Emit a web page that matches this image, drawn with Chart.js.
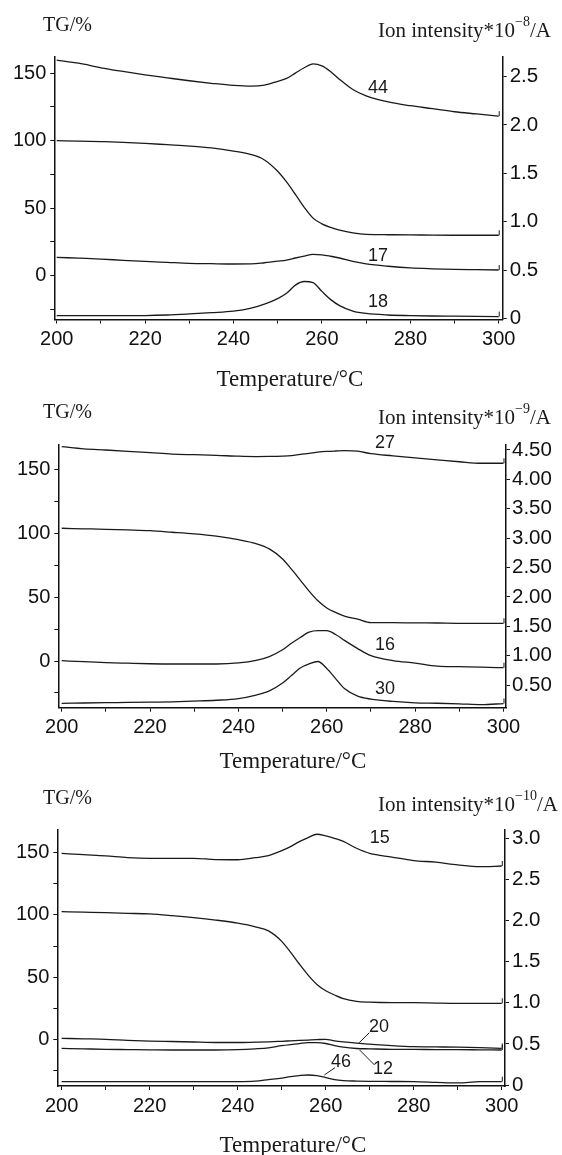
<!DOCTYPE html>
<html>
<head>
<meta charset="utf-8">
<script src="https://cdn.jsdelivr.net/npm/chart.js@4.4.1/dist/chart.umd.min.js"></script>
<style>
  html, body { margin: 0; padding: 0; background: #fff; }
  #wrap { position: relative; width: 562px; height: 1155px; overflow: hidden; }
  canvas { position: absolute; left: 0; }
</style>
</head>
<body>
<div id="wrap">
  <canvas id="c1" width="562" height="395" style="top:0px"></canvas>
  <canvas id="c2" width="562" height="395" style="top:385px"></canvas>
  <canvas id="c3" width="562" height="385" style="top:770px"></canvas>
</div>
<script>
// Temperature grid (°C) shared by every curve
const temps = [200, 205, 210, 215, 220, 225, 230, 235, 240, 244, 247, 250, 252, 254, 256, 258, 260, 262, 264, 267, 270, 275, 280, 285, 290, 295, 300];

// Panel 1: TG (%) and ion currents *10^-8 A
const tg1  = [99.9, 99.6, 99.2, 98.7, 97.9, 96.9, 95.9, 94.5, 92.2, 89.6, 85.6, 77.2, 69.3, 60.1, 50.5, 42.5, 38.3, 35.6, 33.6, 31.5, 30.4, 30.2, 30.1, 29.9, 29.8, 29.8, 29.8];
const ms44 = [2.67, 2.637, 2.59, 2.552, 2.517, 2.486, 2.456, 2.43, 2.408, 2.40, 2.41, 2.45, 2.48, 2.535, 2.59, 2.63, 2.61, 2.55, 2.47, 2.365, 2.30, 2.237, 2.198, 2.168, 2.136, 2.113, 2.09];
const ms17 = [0.632, 0.623, 0.614, 0.601, 0.590, 0.580, 0.570, 0.566, 0.563, 0.564, 0.576, 0.592, 0.604, 0.625, 0.645, 0.663, 0.658, 0.643, 0.625, 0.590, 0.565, 0.540, 0.522, 0.513, 0.507, 0.504, 0.501];
const ms18 = [0.029, 0.029, 0.029, 0.029, 0.030, 0.036, 0.047, 0.060, 0.076, 0.107, 0.148, 0.205, 0.26, 0.345, 0.382, 0.37, 0.28, 0.195, 0.133, 0.077, 0.052, 0.036, 0.030, 0.026, 0.024, 0.022, 0.020];

// Panel 2: TG (%) and ion currents *10^-9 A
const tg2  = [103.8, 103.4, 103.0, 102.5, 101.9, 100.7, 99.4, 97.6, 94.9, 91.8, 87.7, 79.8, 71.8, 63.3, 54.7, 47.1, 41.5, 38.0, 35.1, 32.7, 30.0, 30.0, 29.8, 29.7, 29.5, 29.5, 29.5];
const ms27 = [4.557, 4.52, 4.50, 4.478, 4.455, 4.43, 4.42, 4.41, 4.394, 4.388, 4.39, 4.396, 4.405, 4.425, 4.442, 4.462, 4.475, 4.483, 4.489, 4.48, 4.437, 4.40, 4.365, 4.332, 4.30, 4.274, 4.274];
const ms16 = [0.914, 0.897, 0.881, 0.871, 0.862, 0.858, 0.858, 0.858, 0.876, 0.92, 0.985, 1.10, 1.21, 1.31, 1.40, 1.425, 1.425, 1.36, 1.26, 1.12, 1.00, 0.915, 0.873, 0.822, 0.812, 0.803, 0.795];
const ms30 = [0.189, 0.194, 0.199, 0.204, 0.209, 0.214, 0.226, 0.241, 0.27, 0.33, 0.40, 0.535, 0.66, 0.79, 0.86, 0.90, 0.78, 0.61, 0.44, 0.31, 0.26, 0.22, 0.197, 0.19, 0.18, 0.165, 0.185];

// Panel 3: TG (%) and ion currents *10^-10 A
const tg3  = [102.6, 102.2, 101.8, 101.3, 100.8, 99.5, 97.9, 95.9, 93.4, 90.5, 87.2, 78.8, 70.1, 60.6, 51.7, 44.2, 39.1, 35.7, 32.8, 30.6, 29.9, 29.5, 29.5, 29.2, 29.0, 29.0, 29.0];
const ms15 = [2.818, 2.802, 2.787, 2.766, 2.758, 2.758, 2.758, 2.742, 2.74, 2.765, 2.79, 2.85, 2.90, 2.96, 3.01, 3.05, 3.03, 3.00, 2.963, 2.88, 2.818, 2.773, 2.73, 2.71, 2.677, 2.656, 2.664];
const ms20 = [0.568, 0.562, 0.556, 0.544, 0.535, 0.529, 0.523, 0.517, 0.517, 0.521, 0.525, 0.532, 0.537, 0.542, 0.547, 0.552, 0.556, 0.537, 0.524, 0.509, 0.497, 0.479, 0.466, 0.463, 0.46, 0.454, 0.446];
const ms12 = [0.446, 0.44, 0.434, 0.431, 0.428, 0.426, 0.426, 0.426, 0.43, 0.44, 0.452, 0.478, 0.492, 0.504, 0.515, 0.515, 0.505, 0.48, 0.46, 0.444, 0.44, 0.434, 0.433, 0.431, 0.43, 0.428, 0.426];
const ms46 = [0.041, 0.041, 0.041, 0.041, 0.041, 0.041, 0.041, 0.041, 0.041, 0.047, 0.066, 0.085, 0.103, 0.115, 0.122, 0.113, 0.09, 0.066, 0.054, 0.048, 0.045, 0.043, 0.041, 0.033, 0.025, 0.041, 0.041];

// Tick values
const xTicks = [200, 210, 220, 230, 240, 250, 260, 270, 280, 290, 300];
const tgTicks = [-25, 0, 25, 50, 75, 100, 125, 150];
const ionTicks1 = [0, 0.5, 1.0, 1.5, 2.0, 2.5];
const ionTicks2 = [0.5, 1.0, 1.5, 2.0, 2.5, 3.0, 3.5, 4.0, 4.5];
const ionTicks3 = [0, 0.5, 1.0, 1.5, 2.0, 2.5, 3.0];

// Layout of each panel (pixels inside its canvas) and axis ranges
const LINE = '#1a1a1a';
const X_AXIS_H = 40;
const SANS = '"Liberation Sans", Arial, sans-serif';
const SERIF = '"Liberation Serif", "Times New Roman", serif';

const PANELS = [
  {
    id: 'c1', h: 395, left: 54.3, right: 502.7, top: 56.7, bottom: 319.5,
    xMin: 199.46, xMax: 300.9, tgMin: -32.6, tgMax: 162.1, ionMin: -0.0103, ionMax: 2.7045,
    tg: tg1, ion: [ms44, ms17, ms18], ionTicks: ionTicks1, digits: 1, rightPad: 3,
    exp: '\u22128', tgY: 31, ionY: 37.3, tempX: 290, tempY: 386,
    labels: [['44', 272.7, 2.381], ['17', 272.7, 0.646], ['18', 272.7, 0.17]],
    leaders: []
  },
  {
    id: 'c2', h: 395, left: 58.3, right: 506, top: 60, bottom: 322.7,
    xMin: 199.23, xMax: 300.57, tgMin: -36.52, tgMax: 168.92, ionMin: 0.114, ionMax: 4.585,
    tg: tg2, ion: [ms27, ms16, ms30], ionTicks: ionTicks2, digits: 2, rightPad: 2,
    exp: '\u22129', tgY: 33.3, ionY: 38.8, tempX: 293, tempY: 383.3,
    labels: [['27', 273.2, 4.614], ['16', 273.2, 1.181], ['30', 273.2, 0.427]],
    leaders: []
  },
  {
    id: 'c3', h: 385, left: 57.3, right: 505, top: 60, bottom: 316,
    xMin: 199.02, xMax: 300.73, tgMin: -37.44, tgMax: 168.26, ionMin: -0.012, ionMax: 3.102,
    tg: tg3, ion: [ms15, ms20, ms12, ms46], ionTicks: ionTicks3, digits: 1, rightPad: 3,
    exp: '\u221210', tgY: 34.3, ionY: 40.7, tempX: 293, tempY: 381.7,
    labels: [['15', 272.3, 3.001], ['20', 272.1, 0.709], ['12', 273.0, 0.191], ['46', 263.5, 0.284]],
    leaders: [[267.6, 0.514, 269.9, 0.636], [267.7, 0.426, 271.1, 0.243], [259.7, 0.122, 262.1, 0.211]]
  }
];

function series(vals) {
  return temps.map((t, i) => ({ x: t, y: vals[i] }));
}

// Titles, axis captions, curve numbers and the little end hooks of each trace
function panelText(p) {
  return {
    id: 'panelText',
    afterDraw(chart) {
      const ctx = chart.ctx;
      const xs = chart.scales.x, yr = chart.scales.y1;
      ctx.save();
      ctx.fillStyle = LINE;
      ctx.textBaseline = 'alphabetic';
      ctx.textAlign = 'left';

      ctx.font = '20px ' + SERIF;
      ctx.fillText('TG/%', 43, p.tgY);

      // Ion intensity*10^exp/A with a raised exponent
      let x = 378;
      ctx.font = '21px ' + SERIF;
      ctx.fillText('Ion intensity*10', x, p.ionY);
      x += ctx.measureText('Ion intensity*10').width;
      ctx.font = '14px ' + SERIF;
      ctx.fillText(p.exp, x, p.ionY - 11);
      x += ctx.measureText(p.exp).width;
      ctx.font = '21px ' + SERIF;
      ctx.fillText('/A', x, p.ionY);

      ctx.textAlign = 'center';
      ctx.font = '23px ' + SERIF;
      ctx.fillText('Temperature/\u00B0C', p.tempX, p.tempY);

      ctx.font = '18px ' + SANS;
      ctx.textBaseline = 'middle';
      p.labels.forEach(([txt, t, v]) => {
        ctx.fillText(txt, xs.getPixelForValue(t), yr.getPixelForValue(v));
      });

      ctx.strokeStyle = LINE;
      ctx.lineWidth = 1;
      p.leaders.forEach(([t1, v1, t2, v2]) => {
        ctx.beginPath();
        ctx.moveTo(xs.getPixelForValue(t1), yr.getPixelForValue(v1));
        ctx.lineTo(xs.getPixelForValue(t2), yr.getPixelForValue(v2));
        ctx.stroke();
      });

      // short upward hook where every trace stops
      chart.data.datasets.forEach((ds, i) => {
        const pts = chart.getDatasetMeta(i).data;
        const last = pts[pts.length - 1];
        ctx.beginPath();
        ctx.moveTo(last.x + 0.5, last.y);
        ctx.lineTo(last.x + 0.5, last.y - 5);
        ctx.stroke();
      });
      ctx.restore();
    }
  };
}

function axisStyle() {
  return {
    border: { display: true, color: '#111', width: 1.5 },
    grid: { drawOnChartArea: false, drawTicks: true, tickLength: 4, color: '#111', lineWidth: 1 }
  };
}

function makePanel(p) {
  const datasets = [{ data: series(p.tg), yAxisID: 'y' }]
    .concat(p.ion.map(v => ({ data: series(v), yAxisID: 'y1' })))
    .map(d => Object.assign(d, {
      borderColor: LINE, borderWidth: 1.3, pointRadius: 0, fill: false,
      cubicInterpolationMode: 'monotone'
    }));

  new Chart(document.getElementById(p.id), {
    type: 'line',
    data: { datasets },
    options: {
      responsive: false,
      animation: false,
      layout: { padding: { top: p.top, left: 0, right: 0, bottom: p.h - p.bottom - X_AXIS_H } },
      plugins: { legend: { display: false }, tooltip: { enabled: false } },
      scales: {
        x: Object.assign(axisStyle(), {
          type: 'linear', min: p.xMin, max: p.xMax,
          afterBuildTicks: s => { s.ticks = xTicks.map(v => ({ value: v })); },
          afterFit: s => { s.height = X_AXIS_H; },
          ticks: {
            autoSkip: false, maxRotation: 0, padding: 4, color: '#111',
            font: { family: SANS, size: 20 },
            callback: v => (v % 20 === 0 ? String(v) : '')
          }
        }),
        y: Object.assign(axisStyle(), {
          type: 'linear', position: 'left', min: p.tgMin, max: p.tgMax,
          afterBuildTicks: s => { s.ticks = tgTicks.map(v => ({ value: v })); },
          afterFit: s => { s.width = p.left; },
          ticks: {
            autoSkip: false, padding: 4, color: '#111',
            font: { family: SANS, size: 20 },
            callback: v => (v % 50 === 0 ? String(v) : '')
          }
        }),
        y1: Object.assign(axisStyle(), {
          type: 'linear', position: 'right', min: p.ionMin, max: p.ionMax,
          afterBuildTicks: s => { s.ticks = p.ionTicks.map(v => ({ value: v })); },
          afterFit: s => { s.width = 562 - p.right; },
          ticks: {
            autoSkip: false, padding: p.rightPad, color: '#111',
            font: { family: SANS, size: 20.5 },
            callback: v => (v === 0 ? '0' : v.toFixed(p.digits))
          }
        })
      }
    },
    plugins: [panelText(p)]
  });
}

PANELS.forEach(makePanel);
</script>
</body>
</html>
